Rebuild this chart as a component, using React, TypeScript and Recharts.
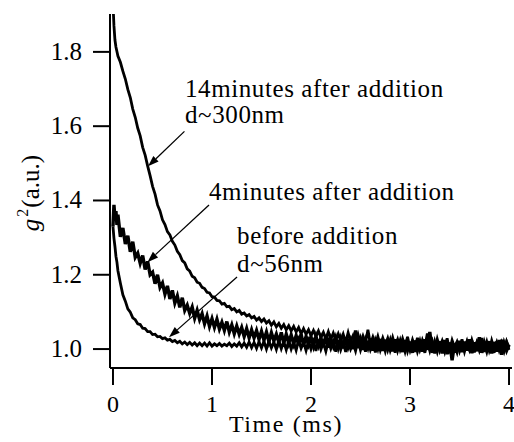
import React from 'react';
import { LineChart, Line, XAxis, YAxis, ReferenceLine, ReferenceDot, Label } from 'recharts';

// time axis (ms)
const times = [
  0, 0.01, 0.02, 0.03, 0.04, 0.05, 0.075, 0.1, 0.125, 0.15,
  0.175, 0.2, 0.225, 0.25, 0.275, 0.3, 0.325, 0.35, 0.375, 0.4,
  0.425, 0.45, 0.475, 0.5, 0.525, 0.55, 0.575, 0.6, 0.625, 0.65,
  0.675, 0.7, 0.725, 0.75, 0.775, 0.8, 0.825, 0.85, 0.875, 0.9,
  0.925, 0.95, 0.975, 1.0,
  1.025, 1.05, 1.075, 1.1, 1.125, 1.15, 1.175, 1.2, 1.225, 1.25,
  1.275, 1.3, 1.325, 1.35, 1.375, 1.4, 1.425, 1.45, 1.475, 1.5,
  1.525, 1.55, 1.575, 1.6, 1.625, 1.65, 1.675, 1.7, 1.725, 1.75,
  1.775, 1.8, 1.825, 1.85, 1.875, 1.9, 1.925, 1.95, 1.975, 2.0,
  2.025, 2.05, 2.075, 2.1, 2.125, 2.15, 2.175, 2.2, 2.225, 2.25,
  2.275, 2.3, 2.325, 2.35, 2.375, 2.4, 2.425, 2.45, 2.475, 2.5,
  2.525, 2.55, 2.575, 2.6, 2.625, 2.65, 2.675, 2.7, 2.725, 2.75,
  2.775, 2.8, 2.825, 2.85, 2.875, 2.9, 2.925, 2.95, 2.975, 3.0,
  3.025, 3.05, 3.075, 3.1, 3.125, 3.15, 3.175, 3.2, 3.225, 3.25,
  3.275, 3.3, 3.325, 3.35, 3.375, 3.4, 3.425, 3.45, 3.475, 3.5,
  3.525, 3.55, 3.575, 3.6, 3.625, 3.65, 3.675, 3.7, 3.725, 3.75,
  3.775, 3.8, 3.825, 3.85, 3.875, 3.9, 3.925, 3.95, 3.975, 4.0,
];

// g2 before addition (d~56nm)
const beforeAdd = [
  1.33, 1.298, 1.276, 1.25, 1.234, 1.211, 1.177, 1.146, 1.129, 1.108,
  1.099, 1.084, 1.079, 1.068, 1.066, 1.056, 1.055, 1.047, 1.047, 1.039,
  1.04, 1.033, 1.034, 1.028, 1.03, 1.024, 1.026, 1.02, 1.023, 1.017,
  1.021, 1.014, 1.019, 1.012, 1.018, 1.011, 1.017, 1.009, 1.016, 1.009,
  1.016, 1.008, 1.017, 1.008,
  1.014, 1.009, 1.015, 1.008, 1.013, 1.009, 1.016, 1.007, 1.014, 1.008,
  1.017, 1.006, 1.016, 1.005, 1.019, 1.004, 1.018, 1.002, 1.02, 1.003,
  1.021, 1.0, 1.022, 1.003, 1.019, 0.999, 1.024, 1.001, 1.02, 0.998,
  1.023, 1.0, 1.019, 0.997, 1.024, 1.002, 1.018, 0.996, 1.022, 1.0,
  1.02, 0.995, 1.025, 0.999, 1.017, 0.994, 1.022, 1.001, 1.019, 0.993,
  1.024, 0.998, 1.018, 0.992, 1.021, 1.0, 1.016, 0.995, 1.023, 0.997,
  1.019, 0.993, 1.022, 0.998, 1.015, 0.991, 1.024, 0.997, 1.018, 0.994,
  1.021, 0.996, 1.016, 0.99, 1.022, 0.998, 1.017, 0.993, 1.02, 0.996,
  1.018, 0.992, 1.023, 0.997, 1.015, 0.99, 1.02, 0.995, 1.017, 0.988,
  1.022, 0.996, 1.016, 0.993, 1.021, 0.997, 1.014, 0.99, 1.019, 0.995,
  1.02, 0.993, 1.017, 0.998, 1.023, 0.991, 1.016, 0.996, 1.018, 0.992,
  1.021, 0.995, 1.015, 0.99, 1.02, 0.997, 1.017, 0.994, 1.019, 0.998,
];

// 4 minutes after addition
const after4 = [
  1.33, 1.388, 1.352, 1.371, 1.334, 1.362, 1.302, 1.326, 1.283, 1.305,
  1.262, 1.289, 1.247, 1.258, 1.231, 1.252, 1.214, 1.236, 1.2, 1.207,
  1.176, 1.2, 1.166, 1.178, 1.148, 1.17, 1.135, 1.158, 1.124, 1.143,
  1.112, 1.138, 1.104, 1.118, 1.096, 1.113, 1.083, 1.104, 1.079, 1.095,
  1.068, 1.089, 1.061, 1.082,
  1.058, 1.08, 1.054, 1.072, 1.05, 1.074, 1.046, 1.065, 1.041, 1.062,
  1.04, 1.058, 1.034, 1.055, 1.03, 1.052, 1.03, 1.05, 1.026, 1.048,
  1.024, 1.046, 1.02, 1.044, 1.022, 1.04, 1.018, 1.045, 1.016, 1.04,
  1.016, 1.038, 1.014, 1.036, 1.012, 1.04, 1.01, 1.034, 1.012, 1.033,
  1.008, 1.034, 1.01, 1.03, 1.006, 1.036, 1.004, 1.028, 1.008, 1.03,
  1.004, 1.028, 1.002, 1.031, 1.005, 1.024, 1.0, 1.05, 1.003, 1.026,
  0.998, 1.024, 1.004, 1.028, 0.996, 1.022, 1.002, 1.027, 0.995, 1.025,
  1.0, 1.022, 0.994, 1.026, 0.998, 1.02, 0.992, 1.024, 0.997, 1.02,
  0.99, 1.023, 0.996, 1.019, 0.993, 1.026, 0.998, 1.046, 0.99, 1.018,
  0.995, 1.021, 0.988, 1.024, 0.986, 1.018, 0.97, 1.014, 0.994, 1.022,
  0.992, 1.02, 0.996, 1.026, 0.989, 1.018, 0.994, 1.032, 0.99, 1.017,
  0.995, 1.021, 0.988, 1.019, 0.993, 1.024, 0.985, 1.016, 0.996, 1.012,
];

// 14 minutes after addition (d~300nm)
const after14 = [
  1.93, 1.87, 1.832, 1.813, 1.801, 1.789, 1.772, 1.748, 1.727, 1.699,
  1.677, 1.646, 1.624, 1.595, 1.574, 1.543, 1.522, 1.493, 1.467, 1.438,
  1.417, 1.388, 1.372, 1.348, 1.335, 1.316, 1.307, 1.29, 1.28, 1.263,
  1.254, 1.238, 1.232, 1.216, 1.21, 1.196, 1.192, 1.18, 1.177, 1.166,
  1.163, 1.153, 1.151, 1.141,
  1.14, 1.131, 1.13, 1.121, 1.123, 1.114, 1.115, 1.106, 1.109, 1.1,
  1.104, 1.094, 1.097, 1.089, 1.093, 1.084, 1.088, 1.078, 1.084, 1.074,
  1.081, 1.07, 1.076, 1.064, 1.073, 1.06, 1.069, 1.056, 1.066, 1.052,
  1.063, 1.049, 1.061, 1.046, 1.058, 1.041, 1.055, 1.04, 1.052, 1.036,
  1.05, 1.034, 1.049, 1.031, 1.045, 1.028, 1.047, 1.026, 1.043, 1.024,
  1.041, 1.022, 1.04, 1.018, 1.044, 1.02, 1.036, 1.017, 1.039, 1.015,
  1.035, 1.016, 1.052, 1.013, 1.032, 1.012, 1.034, 1.009, 1.03, 1.011,
  1.029, 1.006, 1.031, 1.008, 1.026, 1.004, 1.028, 1.007, 1.033, 1.002,
  1.025, 1.005, 1.03, 1.0, 1.024, 1.006, 1.042, 1.003, 1.022, 0.998,
  1.027, 1.004, 1.022, 1.001, 1.029, 0.996, 1.024, 1.005, 1.02, 0.999,
  1.026, 1.0, 1.021, 0.995, 1.024, 1.002, 1.019, 0.997, 1.03, 0.998,
  1.02, 0.994, 1.023, 1.0, 1.018, 0.993, 1.025, 0.998, 1.021, 1.004,
];

const xTicks = [0, 1, 2, 3, 4];
const yTicks = [1.0, 1.2, 1.4, 1.6, 1.8];

// annotation text (left edge / baseline in data units)
const notes = [
  { t: 0.727, g: 1.679, text: '14minutes after addition' },
  { t: 0.727, g: 1.608, text: 'd~300nm' },
  { t: 0.97, g: 1.401, text: '4minutes after addition' },
  { t: 1.253, g: 1.283, text: 'before addition' },
  { t: 1.253, g: 1.208, text: 'd~56nm' },
];

// arrows: tail -> tip
const arrows = [
  { t1: 0.722, g1: 1.586, t2: 0.354, g2: 1.492 },
  { t1: 0.97, g1: 1.388, t2: 0.348, g2: 1.234 },
  { t1: 1.253, g1: 1.194, t2: 0.566, g2: 1.032 },
];

const data = times.map((t, i) => ({
  t,
  before: beforeAdd[i],
  after4: after4[i],
  after14: after14[i],
}));

const FONT = 'Liberation Serif';
const textStyle = { fontFamily: FONT };

const Arrow = (props: any) => {
  const { x1, y1, x2, y2 } = props;
  const dx = x2 - x1;
  const dy = y2 - y1;
  const len = Math.hypot(dx, dy) || 1;
  const ux = dx / len;
  const uy = dy / len;
  const hl = 11;
  const hw = 3.8;
  const bx = x2 - ux * hl;
  const by = y2 - uy * hl;
  return (
    <g>
      <line x1={x1} y1={y1} x2={bx} y2={by} stroke="#000" strokeWidth={1.3} />
      <polygon
        points={`${x2},${y2} ${bx - uy * hw},${by + ux * hw} ${bx + uy * hw},${by - ux * hw}`}
        fill="#000"
      />
    </g>
  );
};

const YTitle = (props: any) => {
  const { viewBox } = props;
  const cx = viewBox.x + 29;
  const cy = viewBox.y + viewBox.height / 2 + 2;
  return (
    <text
      transform={`translate(${cx},${cy}) rotate(-90)`}
      textAnchor="middle"
      style={textStyle}
      fontSize={25}
      fill="#000"
    >
      <tspan fontStyle="italic">g</tspan>
      <tspan dx={2} dy={-11} fontSize={16}>2</tspan>
      <tspan dx={1} dy={11}>(a.u.)</tspan>
    </text>
  );
};

const XTitle = (props: any) => {
  const { viewBox } = props;
  return (
    <text
      x={viewBox.x + 176}
      y={viewBox.y + 64}
      textAnchor="middle"
      style={textStyle}
      fontSize={24}
      letterSpacing={1.6}
      fill="#000"
    >
      Time (ms)
    </text>
  );
};

const XTick = (props: any) => {
  const { x, y, payload } = props;
  return (
    <text x={x} y={y} dy={15} textAnchor="middle" style={textStyle} fontSize={24} fill="#000">
      {payload.value}
    </text>
  );
};

const YTick = (props: any) => {
  const { x, y, payload } = props;
  return (
    <text x={x} y={y} dy={8} textAnchor="end" style={textStyle} fontSize={25} fill="#000">
      {Number(payload.value).toFixed(1)}
    </text>
  );
};

export default function App() {
  return (
    <div style={{ position: 'absolute', left: 0, top: 0, width: 514, height: 442, background: '#fff', fontFamily: FONT }}>
      <LineChart width={514} height={442} data={data} margin={{ top: 14, right: 2, bottom: 0, left: 10 }}>
        <XAxis
          dataKey="t"
          type="number"
          domain={[-0.03, 4.03]}
          ticks={xTicks}
          allowDataOverflow
          height={74}
          tickSize={17}
          tickMargin={12}
          tick={<XTick />}
          axisLine={{ stroke: '#000', strokeWidth: 2 }}
          tickLine={{ stroke: '#000', strokeWidth: 2 }}
        >
          <Label content={XTitle} />
        </XAxis>
        <YAxis
          type="number"
          domain={[0.949, 1.902]}
          ticks={yTicks}
          allowDataOverflow
          width={100}
          tickSize={17}
          tickMargin={11}
          tick={<YTick />}
          axisLine={{ stroke: '#000', strokeWidth: 2 }}
          tickLine={{ stroke: '#000', strokeWidth: 2 }}
        >
          <Label content={YTitle} />
        </YAxis>
        <Line type="linear" dataKey="before" stroke="#000" strokeWidth={2.8} dot={false} isAnimationActive={false} />
        <Line type="linear" dataKey="after4" stroke="#000" strokeWidth={3.4} dot={false} isAnimationActive={false} />
        <Line type="linear" dataKey="after14" stroke="#000" strokeWidth={2.8} dot={false} isAnimationActive={false} />
        {arrows.map((a, i) => (
          <ReferenceLine
            key={`a${i}`}
            segment={[{ x: a.t1, y: a.g1 }, { x: a.t2, y: a.g2 }]}
            shape={Arrow}
          />
        ))}
        {notes.map((n, i) => (
          <ReferenceDot
            key={`n${i}`}
            x={n.t}
            y={n.g}
            r={0}
            shape={(p: any) => (
              <text x={p.cx} y={p.cy} style={textStyle} fontSize={25} letterSpacing={0.6} fill="#000">
                {n.text}
              </text>
            )}
          />
        ))}
      </LineChart>
    </div>
  );
}
